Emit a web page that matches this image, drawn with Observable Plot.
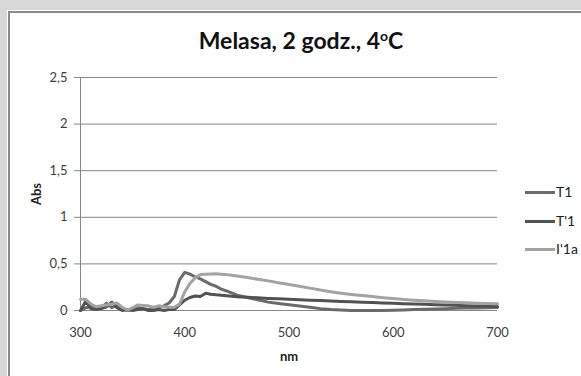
<!DOCTYPE html>
<html>
<head>
<meta charset="utf-8">
<script src="https://cdn.jsdelivr.net/npm/d3@7"></script>
<script src="https://cdn.jsdelivr.net/npm/@observablehq/plot@0.6"></script>
<style>
  html, body { margin: 0; padding: 0; }
  body { width: 581px; height: 376px; background: #d8d8d8; overflow: hidden; font-family: Lato, "Noto Sans", sans-serif; }
  #wrap { position: relative; width: 581px; height: 376px; }
  #panel { position: absolute; left: 7px; top: 10px; right: 0; bottom: 0; background: #fff; }
  #panel .inner { position: absolute; left: 1px; top: 1px; right: 0; bottom: 0; border-left: 2px solid #8a8a8a; border-top: 2px solid #8a8a8a; }
  #title { position: absolute; left: 0; width: 602px; top: 26px; text-align: center; font-weight: bold; font-size: 23px; color: #111; white-space: nowrap; }
  #title sup { font-size: 14px; vertical-align: 8px; font-weight: bold; }
  #chart { position: absolute; left: 0; top: 60px; }
  #legend { position: absolute; left: 525px; top: 183px; font-size: 14px; color: #222; }
  #legend .item { position: absolute; left: 0; height: 20px; width: 60px; }
  #legend .swatch { position: absolute; left: 0; top: 8px; width: 30px; height: 3px; }
  #legend .lbl { position: absolute; left: 31px; top: 0px; }
</style>
</head>
<body>
<div id="wrap">
  <div id="panel"><div class="inner"></div></div>
  <div id="title">Melasa, 2 godz., 4<sup>o</sup>C</div>
  <div id="chart"></div>
  <div id="legend"></div>
</div>
<script>
// Wavelengths (nm): 5 nm steps up to 450, then 10 nm steps to 700
const wavelengths = [
  300, 305, 310, 315, 320, 325, 330, 335, 340, 345, 350, 355, 360, 365, 370, 375,
  380, 385, 390, 395, 400, 405, 410, 415, 420, 425, 430, 435, 440, 445, 450,
  460, 470, 480, 490, 500, 510, 520, 530, 540, 550, 560, 570, 580, 590, 600,
  610, 620, 630, 640, 650, 660, 670, 680, 690, 700
];

// Absorbance series
const absT1 = [
  0.00, 0.03, 0.04, 0.02, 0.03, 0.08, 0.03, 0.06, 0.02, 0.00, 0.01, 0.03, 0.02, 0.01, 0.02, 0.03,
  0.05, 0.08, 0.15, 0.33, 0.41, 0.39, 0.36, 0.34, 0.31, 0.28, 0.26, 0.23, 0.21, 0.19, 0.165,
  0.14, 0.115, 0.09, 0.075, 0.062, 0.048, 0.035, 0.02, 0.01, 0.005, 0.00, 0.00, 0.00, 0.00, 0.003,
  0.006, 0.01, 0.013, 0.016, 0.02, 0.023, 0.026, 0.028, 0.03, 0.032
];
const absT1p = [
  0.00, 0.10, 0.02, 0.01, 0.02, 0.04, 0.09, 0.03, 0.00, 0.01, 0.00, 0.01, 0.02, 0.00, 0.00, 0.01,
  0.00, 0.01, 0.01, 0.06, 0.11, 0.14, 0.155, 0.15, 0.185, 0.175, 0.168, 0.163, 0.158, 0.153, 0.148,
  0.142, 0.136, 0.13, 0.125, 0.12, 0.115, 0.11, 0.106, 0.101, 0.097, 0.093, 0.089, 0.085, 0.081, 0.077,
  0.073, 0.07, 0.066, 0.062, 0.058, 0.055, 0.052, 0.049, 0.046, 0.043
];
const absI1a = [
  0.12, 0.12, 0.07, 0.04, 0.05, 0.06, 0.07, 0.08, 0.035, 0.005, 0.03, 0.06, 0.055, 0.05, 0.035, 0.05,
  0.04, 0.035, 0.035, 0.07, 0.20, 0.29, 0.35, 0.385, 0.39, 0.392, 0.393, 0.39, 0.385, 0.378, 0.37,
  0.355, 0.335, 0.318, 0.298, 0.28, 0.26, 0.24, 0.22, 0.202, 0.186, 0.172, 0.16, 0.149, 0.138, 0.128,
  0.119, 0.111, 0.104, 0.097, 0.091, 0.086, 0.082, 0.078, 0.075, 0.072
];

const seriesNames = ["T1", "T'1", "I'1a"];
const seriesColors = ["#6a6a6a", "#525252", "#a3a3a3"];
const seriesValues = [absT1, absT1p, absI1a];

const xTicks = [300, 400, 500, 600, 700];
const yTicks = [0, 0.5, 1, 1.5, 2, 2.5];

const rows = seriesNames.flatMap((name, i) =>
  wavelengths.map((nm, j) => ({series: name, nm, abs: seriesValues[i][j]}))
);

const fmt = d => String(d).replace(".", ",");
const font = "Lato, 'Noto Sans', sans-serif";

const chart = Plot.plot({
  width: 581,
  height: 316,
  marginLeft: 80,
  marginRight: 84,
  marginTop: 17,
  marginBottom: 66,
  style: {background: "transparent", fontFamily: font, fontSize: "13px", color: "#404040"},
  x: {domain: [300, 700]},
  y: {domain: [0, 2.5]},
  color: {domain: seriesNames, range: seriesColors},
  marks: [
    Plot.gridY(yTicks, {stroke: "#868686", strokeOpacity: 1, strokeWidth: 1}),
    Plot.ruleX([300], {stroke: "#868686", strokeWidth: 1}),
    Plot.axisY(yTicks, {
      tickSize: 6, tickPadding: 7, tickFormat: fmt, stroke: "#868686",
      fontSize: 13, fill: "#404040",
      label: "Abs", labelAnchor: "center", labelArrow: "none", labelOffset: 49
    }),
    Plot.axisX(xTicks, {
      tickSize: 0, tickPadding: 17, fontSize: 13, fill: "#404040",
      label: "nm", labelAnchor: "center", labelArrow: "none", labelOffset: 50
    }),
    Plot.line(rows, {
      x: "nm", y: "abs", z: "series", stroke: "series",
      strokeWidth: 3, strokeLinejoin: "round", strokeLinecap: "round", curve: "linear"
    })
  ]
});

// Axis titles in bold
d3.select(chart).selectAll("[aria-label='y-axis label'], [aria-label='x-axis label']")
  .attr("font-weight", "bold").attr("fill", "#222");

document.getElementById("chart").appendChild(chart);

// Line legend on the right
const legend = d3.select("#legend");
seriesNames.forEach((name, i) => {
  const item = legend.append("div").attr("class", "item").style("top", (i * 28.5) + "px");
  item.append("div").attr("class", "swatch").style("background", seriesColors[i]);
  item.append("div").attr("class", "lbl").text(name);
});
</script>
</body>
</html>
